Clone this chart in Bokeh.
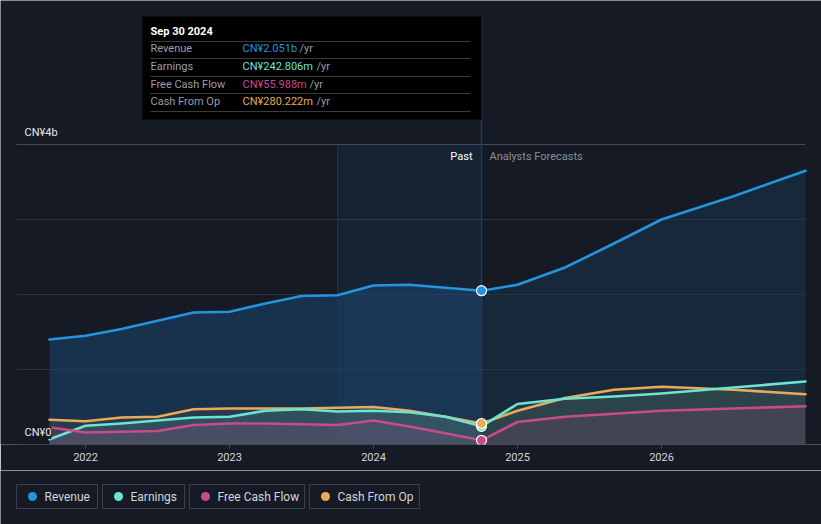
from bokeh.plotting import figure
from bokeh.models import (Range1d, FixedTicker, Label, BoxAnnotation, ColumnDataSource)
from bokeh.layouts import column
from bokeh.embed import file_html
from bokeh.resources import INLINE
from bokeh.core.properties import value

# ---------------- data (CN¥ billions, trailing twelve months) ----------------
past_x = [2021.75, 2022.0, 2022.25, 2022.5, 2022.75, 2023.0, 2023.25, 2023.5,
          2023.75, 2024.0, 2024.25, 2024.5, 2024.75]
revenue_past = [1.40, 1.45, 1.54, 1.65, 1.76, 1.77, 1.88, 1.98, 1.99, 2.12, 2.13, 2.09, 2.051]
earnings_past = [0.07, 0.25, 0.28, 0.32, 0.36, 0.37, 0.45, 0.47, 0.44, 0.45, 0.43, 0.37, 0.243]
fcf_past = [0.23, 0.16, 0.17, 0.18, 0.26, 0.28, 0.28, 0.27, 0.26, 0.32, 0.24, 0.15, 0.056]
cfo_past = [0.33, 0.31, 0.36, 0.37, 0.47, 0.48, 0.48, 0.48, 0.49, 0.50, 0.45, 0.37, 0.280]

fc_x = [2024.75, 2025.0, 2025.33, 2025.67, 2026.0, 2026.5, 2027.0]
revenue_fc = [2.051, 2.13, 2.36, 2.68, 3.00, 3.31, 3.65]
earnings_fc = [0.243, 0.54, 0.61, 0.64, 0.68, 0.76, 0.84]
fcf_fc = [0.056, 0.30, 0.37, 0.41, 0.45, 0.48, 0.51]
cfo_fc = [0.280, 0.45, 0.62, 0.73, 0.77, 0.73, 0.67]

year_ticks = [2022, 2023, 2024, 2025, 2026]
y_grid = [0, 1, 2, 3, 4]
grid_colors = ["#3a3f49", "#2e343e", "#2e343e", "#2e343e", "#454a54"]

series_names = ["Revenue", "Earnings", "Free Cash Flow", "Cash From Op"]
series_colors = ["#2394df", "#6de3d1", "#c94b8a", "#e9aa5a"]
tooltip_values = ["CN¥2.051b", "CN¥242.806m", "CN¥55.988m", "CN¥280.222m"]

BG = "#151a24"
FONT = "Roboto"
px_per_year = 144.0
px_per_b = 75.0
MAIN_H = 470

def X(px):
    return 2022 + (px - 85) / px_per_year

def Y(py):
    return (444 - py) / px_per_b

# ---------------- main figure (frame spans full width) ----------------
p = figure(width=821, height=MAIN_H, output_backend="svg", toolbar_location=None,
           x_range=Range1d(X(0), X(821)), y_range=Range1d(0, Y(0)),
           min_border_left=0, min_border_right=0, min_border_top=0,
           min_border_bottom=MAIN_H - 444)
p.background_fill_color = BG
p.border_fill_color = BG
p.outline_line_color = None
p.yaxis.visible = False
p.grid.visible = False

p.xaxis.ticker = FixedTicker(ticks=year_ticks)
p.xaxis.major_label_overrides = {t: str(t) for t in year_ticks}
p.xaxis.axis_line_color = None
p.xaxis.major_tick_line_color = "#4a4f58"
p.xaxis.major_tick_in = 0
p.xaxis.major_tick_out = 4
p.xaxis.minor_tick_line_color = None
p.xaxis.major_label_text_color = "#d3d6db"
p.xaxis.major_label_text_font = FONT
p.xaxis.major_label_text_font_size = "11px"
p.xaxis.major_label_standoff = 4

# horizontal gridlines over the plotting width
p.segment(x0=[X(16)] * 5, x1=[X(805)] * 5, y0=y_grid, y1=y_grid,
          line_color=grid_colors, line_width=1)

# revenue areas
p.varea(x=past_x, y1=0, y2=revenue_past, fill_color="#1a4168", fill_alpha=0.6)
p.varea(x=fc_x, y1=0, y2=revenue_fc, fill_color="#1c3a58", fill_alpha=0.45)

# highlighted last-year band
p.quad(left=[2023.75], right=[2024.75], bottom=[0], top=[4],
       fill_color="#1f5587", fill_alpha=0.16, line_color=None)
p.segment(x0=[2023.75], x1=[2023.75], y0=[0], y1=[4], line_color="#1e3550", line_width=1)

# other areas
for xs, ys, c, a in [(past_x, cfo_past, series_colors[3], 0.08), (fc_x, cfo_fc, series_colors[3], 0.07),
                     (past_x, earnings_past, series_colors[1], 0.12), (fc_x, earnings_fc, series_colors[1], 0.1),
                     (past_x, fcf_past, series_colors[2], 0.16), (fc_x, fcf_fc, series_colors[2], 0.14)]:
    p.varea(x=xs, y1=0, y2=ys, fill_color=c, fill_alpha=a)

# crosshair
p.segment(x0=[2024.75], x1=[2024.75], y0=[0], y1=[Y(16)], line_color="#263a50", line_width=1.5)

# lines
for xs, ys, c in [(past_x, cfo_past, series_colors[3]), (fc_x, cfo_fc, series_colors[3]),
                  (past_x, earnings_past, series_colors[1]), (fc_x, earnings_fc, series_colors[1]),
                  (past_x, fcf_past, series_colors[2]), (fc_x, fcf_fc, series_colors[2]),
                  (past_x, revenue_past, series_colors[0]), (fc_x, revenue_fc, series_colors[0])]:
    p.line(x=xs, y=ys, line_color=c, line_width=2.6, line_join="round", line_cap="round")

last_vals = [revenue_past[-1], earnings_past[-1], fcf_past[-1], cfo_past[-1]]
order = [1, 2, 3, 0]
p.scatter(x=[past_x[-1]] * 4, y=[last_vals[i] for i in order], size=10,
          fill_color=[series_colors[i] for i in order], line_color="white", line_width=1.2)

p.add_layout(Label(x=X(472), y=Y(156), text="Past", text_align="right", text_baseline="middle",
                   text_color="#ffffff", text_font=FONT, text_font_size="11px"))
p.add_layout(Label(x=X(489), y=Y(156), text="Analysts Forecasts", text_align="left",
                   text_baseline="middle", text_color="#8a8f98", text_font=FONT,
                   text_font_size="11px"))

p.add_layout(Label(x=X(24), y=Y(132), text="CN¥4b", text_baseline="middle",
                   text_color="#e6e8eb", text_font=FONT, text_font_size="11px"))
p.add_layout(Label(x=X(24), y=Y(432), text="CN¥0", text_baseline="middle",
                   text_color="#e6e8eb", text_font=FONT, text_font_size="11px",
                   background_fill_color=BG, background_fill_alpha=0.85))

# tooltip
p.add_layout(BoxAnnotation(left=X(142), right=X(481), top=Y(16), bottom=Y(119),
                           fill_color="#000000", fill_alpha=1.0, line_color=None))
p.add_layout(Label(x=X(150), y=Y(31), text="Sep 30 2024", text_baseline="middle",
                   text_color="#ffffff", text_font=FONT, text_font_size="11px",
                   text_font_style="bold"))
row_y = [48, 66, 84, 101]
sep_y = [41, 58, 76, 93, 111]
yr_x = [299, 316, 309, 316]
for i in range(4):
    p.add_layout(Label(x=X(150), y=Y(row_y[i]), text=series_names[i], text_baseline="middle",
                       text_color="#9a9ea5", text_font=FONT, text_font_size="11px"))
    p.add_layout(Label(x=X(242), y=Y(row_y[i]), text=tooltip_values[i], text_baseline="middle",
                       text_color=series_colors[i], text_font=FONT, text_font_size="11px"))
    p.add_layout(Label(x=X(yr_x[i]), y=Y(row_y[i]), text="/yr", text_baseline="middle",
                       text_color="#9a9ea5", text_font=FONT, text_font_size="11px"))
for sy in sep_y:
    p.add_layout(BoxAnnotation(left=X(150), right=X(470), top=Y(sy - 0.5), bottom=Y(sy + 0.5),
                               fill_color="#3b3b3b", fill_alpha=1.0, line_color=None))

# ---------------- legend figure (page pixel coordinates) ----------------
LEG_H = 524 - MAIN_H
lg = figure(width=821, height=LEG_H, output_backend="svg", toolbar_location=None,
            x_range=Range1d(0, 821), y_range=Range1d(524, MAIN_H),
            min_border=0, x_axis_location=None, y_axis_location=None)
lg.background_fill_color = BG
lg.border_fill_color = BG
lg.outline_line_color = None
lg.grid.visible = False

box_l = [16, 102, 189, 309]
box_r = [97, 184, 304, 419]
lg.quad(left=box_l, right=box_r, top=[484] * 4, bottom=[508] * 4,
        fill_color=None, line_color="#3a3f4a", line_width=1)
src = ColumnDataSource(dict(dx=[l + 16 for l in box_l], tx=[l + 28 for l in box_l],
                            y=[496] * 4, name=series_names, color=series_colors))
lg.scatter(x="dx", y="y", source=src, size=9, fill_color="color", line_color=None)
lg.text(x="tx", y="y", text="name", source=src, text_baseline="middle",
        text_color="#d3d6db", text_font=value(FONT), text_font_size="12px")

layout = column(p, lg, spacing=0)
open("out.html", "w").write(file_html(layout, INLINE))
